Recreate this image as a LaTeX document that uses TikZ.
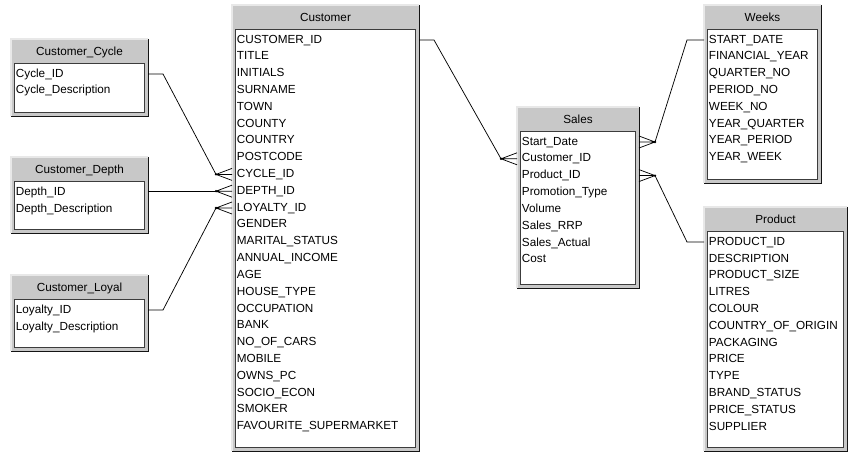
\documentclass[tikz,border=0pt]{standalone}
\usepackage{fontspec}
\setmainfont{Liberation Sans}
\usepackage{tikz}
\usetikzlibrary{calc}
\definecolor{framegray}{RGB}{200,200,200}
\definecolor{edgelight}{RGB}{232,232,232}
\definecolor{edgedark}{RGB}{20,20,20}
\definecolor{bodyline}{RGB}{60,60,60}
\tikzset{
  frame/.style={fill=framegray,inner sep=0pt,outer sep=0pt,anchor=north west},
  body/.style={fill=white,draw=bodyline,line width=0.6pt,inner sep=0pt,outer sep=0pt,anchor=north west},
  hdr/.style={inner sep=0pt,text height=6.4pt,text depth=1.6pt,font=\fontsize{8.8}{10}\selectfont},
  field/.style={inner sep=0.5pt,anchor=west,text height=6.4pt,text depth=1.6pt,font=\fontsize{8.8}{10}\selectfont},
  link/.style={draw=black,line width=0.55pt}
}
% table: name, left, top, width, height, title, fields
\newcommand{\ertable}[7]{%
  \node[frame,minimum width={#4*0.75pt},minimum height={#5*0.75pt}] (#1) at (#2,#3) {};
  \draw[edgelight,line width=0.8pt] (#1.south west) |- (#1.north east);
  \draw[edgedark,line width=0.7pt] (#1.north east) |- (#1.south west);
  \node[hdr] (#1-h) at ($(#1.north)+(0,13)$) {#6};
  \node[body,minimum width={(#4-7)*0.75pt},minimum height={(#5-28)*0.75pt}] (#1-b) at ($(#1.north west)+(3,24)$) {};
  \foreach \r [count=\i] in {#7}
    \node[field] (#1-\i) at ($(#1.north west)+(4,{35+16.8*\i-16.8})$) {\r};
}
% crow's foot: meeting point, signed prong length
\newcommand{\crowfoot}[2]{%
  \draw[link] #1 -- ++(#2,-6) #1 -- ++(#2,0) #1 -- ++(#2,6);
  \fill #1 circle (1.3);
}

\begin{document}
\begin{tikzpicture}[x=0.75pt,y=-0.75pt]
  \useasboundingbox (0,0) rectangle (848,452);

  \ertable{cyc}{11}{39}{137}{77}{Customer\_Cycle}{Cycle\_ID,Cycle\_Description}
  \ertable{dep}{11}{157}{137}{76}{Customer\_Depth}{Depth\_ID,Depth\_Description}
  \ertable{loy}{11}{275}{137}{76}{Customer\_Loyal}{Loyalty\_ID,Loyalty\_Description}
  \ertable{cust}{232}{5}{187}{446}{Customer}{CUSTOMER\_ID,TITLE,INITIALS,SURNAME,TOWN,COUNTY,COUNTRY,POSTCODE,CYCLE\_ID,DEPTH\_ID,LOYALTY\_ID,GENDER,MARITAL\_STATUS,ANNUAL\_INCOME,AGE,HOUSE\_TYPE,OCCUPATION,BANK,NO\_OF\_CARS,MOBILE,OWNS\_PC,SOCIO\_ECON,SMOKER,FAVOURITE\_SUPERMARKET}
  \ertable{sales}{517}{107}{122}{181}{Sales}{Start\_Date,Customer\_ID,Product\_ID,Promotion\_Type,Volume,Sales\_RRP,Sales\_Actual,Cost}
  \ertable{weeks}{704}{5}{117}{178}{Weeks}{START\_DATE,FINANCIAL\_YEAR,QUARTER\_NO,PERIOD\_NO,WEEK\_NO,YEAR\_QUARTER,YEAR\_PERIOD,YEAR\_WEEK}
  \ertable{prod}{704}{207}{143}{244}{Product}{PRODUCT\_ID,DESCRIPTION,PRODUCT\_SIZE,LITRES,COLOUR,COUNTRY\_OF\_ORIGIN,PACKAGING,PRICE,TYPE,BRAND\_STATUS,PRICE\_STATUS,SUPPLIER}

  % meeting points of the crow's feet
  \coordinate (f-cyc) at ($(cust.west |- cust-9)+(-16,0)$);
  \coordinate (f-dep) at ($(cust.west |- cust-10)+(-16,0)$);
  \coordinate (f-loy) at ($(cust.west |- cust-11)+(-16,0)$);
  \coordinate (f-cust) at ($(sales.west |- sales-2)+(-16,0)$);
  \coordinate (f-weeks) at ($(sales.east |- sales-1)+(16,0)$);
  \coordinate (f-prod) at ($(sales.east |- sales-3)+(16,0)$);

  \draw[link] (cyc.east |- cyc-1) -- ++(15,0) -- (f-cyc);
  \draw[link] (dep.east |- f-dep) -- (f-dep);
  \draw[link] (loy.east |- loy-1) -- ++(15,0) -- (f-loy);
  \draw[link] (cust.east |- cust-1) -- ++(15,0) -- (f-cust);
  \draw[link] (f-weeks) -- ($(weeks.west |- weeks-1)+(-17,0)$) -- (weeks.west |- weeks-1);
  \draw[link] (f-prod) -- ($(prod.west |- prod-1)+(-17,0)$) -- (prod.west |- prod-1);

  \crowfoot{(f-cyc)}{16}
  \crowfoot{(f-dep)}{16}
  \crowfoot{(f-loy)}{16}
  \crowfoot{(f-cust)}{16}
  \crowfoot{(f-weeks)}{-16}
  \crowfoot{(f-prod)}{-16}
\end{tikzpicture}
\end{document}
